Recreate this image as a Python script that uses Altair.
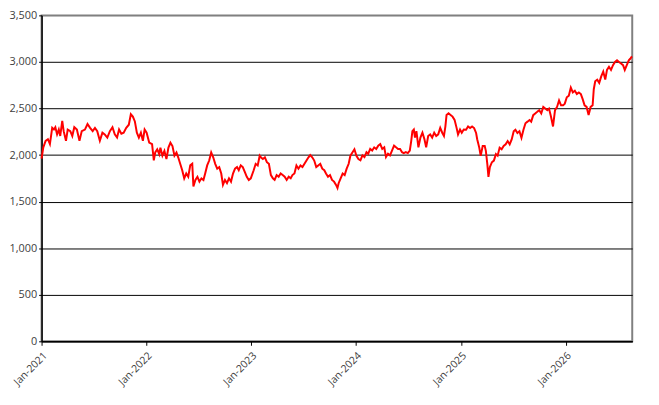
import altair as alt
import pandas as pd

# Days since 2021-01-01 of each observation
days = [0, 6, 14, 22, 29, 37, 43, 48, 54, 60, 65, 72, 77, 85, 91, 100, 107, 114, 123, 132,
        140, 151, 160, 169, 178, 186, 194, 203, 212, 220, 229, 238, 247, 255, 263, 270, 278, 286, 295, 304,
        311, 318, 325, 332, 339, 346, 353, 359, 366, 375, 385, 391,
        396, 403, 410, 414, 421, 428, 435, 442, 449, 456, 463, 470, 476, 483, 490, 497, 504, 511, 518, 525,
        529, 536, 543, 550, 557, 564, 570, 577, 584, 591, 598, 605, 612, 619, 626, 632, 639, 646, 653, 660,
        667, 674, 681, 687, 694, 701, 708, 715, 722, 729,
        739, 746, 753, 760, 764, 771, 778, 785, 792, 799, 806, 812, 819, 826, 833, 840, 847, 854, 861, 868,
        874, 881, 888, 895, 902, 909, 916, 923, 930, 936, 943, 950, 957, 964, 971, 978, 985, 991, 998, 1005,
        1012, 1019, 1026, 1031, 1035, 1042, 1049, 1056, 1063, 1070, 1076, 1083, 1090, 1097, 1104,
        1111, 1118, 1125, 1132, 1138, 1145, 1152, 1159, 1166, 1173, 1180, 1187, 1194, 1200, 1207, 1214, 1221, 1228, 1235, 1242,
        1249, 1256, 1262, 1269, 1276, 1283, 1288, 1292, 1297, 1301, 1306, 1313, 1320, 1327, 1334, 1340, 1347, 1354, 1361, 1368,
        1375, 1382, 1389, 1396, 1402, 1407, 1411, 1418, 1425, 1432, 1439, 1446, 1451, 1458, 1464, 1471,
        1479, 1486, 1493, 1500, 1507, 1514, 1518, 1525, 1530, 1537, 1544, 1548, 1553, 1557, 1562, 1569, 1576, 1583, 1589, 1596,
        1603, 1610, 1617, 1624, 1631, 1638, 1645, 1651, 1658, 1665, 1672, 1679, 1686, 1693, 1700, 1706, 1713, 1720, 1727, 1734,
        1741, 1748, 1755, 1762, 1768, 1775, 1782, 1789, 1796, 1803, 1810,
        1817, 1823, 1830, 1837, 1844, 1851, 1858, 1865, 1872, 1879, 1885, 1892, 1899, 1906, 1913, 1920, 1924, 1929, 1936, 1943,
        1950, 1957, 1964, 1970, 1977, 1984, 1991, 1998, 2005, 2012, 2019, 2026, 2032, 2039, 2046, 2051, 2057]

values = [1962, 2083, 2153, 2170, 2118, 2292, 2274, 2299, 2222, 2274, 2205, 2368, 2257, 2153, 2274, 2257, 2205, 2299, 2274, 2153,
          2257, 2274, 2333, 2292, 2257, 2292, 2257, 2153, 2240, 2222, 2188, 2257, 2299, 2222, 2188, 2274, 2229, 2240, 2292, 2326,
          2438, 2413, 2361, 2240, 2188, 2240, 2153, 2274, 2240, 2135, 2118, 1944,
          2028, 2062, 2010, 2080, 1993, 2045, 1958, 2080, 2132, 2097, 1993, 2028, 1976, 1906, 1837, 1750, 1802, 1767, 1889, 1906,
          1663, 1733, 1767, 1715, 1750, 1733, 1802, 1889, 1941, 2028, 1976, 1906, 1854, 1871, 1802, 1680, 1733, 1698, 1750, 1715,
          1802, 1854, 1871, 1837, 1889, 1871, 1819, 1767, 1733, 1750,
          1837, 1906, 1889, 1993, 1976, 1958, 1976, 1924, 1906, 1785, 1750, 1733, 1785, 1767, 1802, 1785, 1767, 1733, 1767, 1750,
          1785, 1802, 1889, 1854, 1889, 1871, 1906, 1941, 1976, 2000, 1976, 1941, 1871, 1889, 1906, 1854, 1837, 1802, 1767, 1785,
          1733, 1715, 1680, 1646, 1698, 1750, 1802, 1785, 1854, 1906, 1993, 2028, 2062, 1993, 1958,
          1944, 1997, 1979, 2031, 2014, 2066, 2049, 2083, 2066, 2101, 2118, 2066, 2083, 1979, 2014, 1997, 2049, 2101, 2083, 2066,
          2066, 2031, 2021, 2031, 2021, 2049, 2153, 2257, 2274, 2188, 2257, 2083, 2188, 2240, 2170, 2083, 2205, 2222, 2188, 2240,
          2205, 2222, 2292, 2240, 2205, 2309, 2431, 2448, 2431, 2413, 2378, 2292, 2222, 2274, 2240, 2274,
          2272, 2307, 2290, 2307, 2290, 2237, 2168, 2080, 1993, 2098, 2098, 2045, 1906, 1766, 1871, 1923, 1941, 2010, 1993, 2080,
          2063, 2098, 2115, 2150, 2115, 2168, 2255, 2272, 2237, 2255, 2185, 2272, 2342, 2359, 2377, 2359, 2429, 2447, 2464, 2482,
          2447, 2517, 2499, 2482, 2499, 2412, 2307, 2482, 2517, 2587, 2534,
          2534, 2552, 2621, 2638, 2724, 2672, 2690, 2655, 2672, 2655, 2603, 2534, 2517, 2431, 2517, 2534, 2707, 2793, 2810, 2776,
          2845, 2897, 2810, 2914, 2948, 2914, 2966, 3000, 3017, 3000, 2983, 2966, 2914, 2966, 3017, 3034, 3059]

tick_years = [2021, 2022, 2023, 2024, 2025, 2026]
y_ticks = [0, 500, 1000, 1500, 2000, 2500, 3000, 3500]

start = pd.Timestamp("2021-01-01")
df = pd.DataFrame({"date": start + pd.to_timedelta(days, unit="D"), "value": values})

chart = alt.Chart(df).mark_line(color="#FF0000", strokeWidth=2).encode(
    x=alt.X(
        "date:T",
        scale=alt.Scale(domain=[alt.DateTime(year=2021, month=1, date=1),
                                alt.DateTime(year=2026, month=8, date=21)]),
        axis=alt.Axis(
            values=[alt.DateTime(year=y, month=1, date=1) for y in tick_years],
            format="%b-%Y", labelAngle=-45, labelAlign="right", labelBaseline="top",
            grid=False, title=None, tickSize=4, labelPadding=5, labelFontSize=10.5,
        ),
    ),
    y=alt.Y(
        "value:Q",
        scale=alt.Scale(domain=[0, 3500], nice=False),
        axis=alt.Axis(
            values=y_ticks, format=",.0f", grid=True, title=None, tickSize=3, labelPadding=2,
            gridColor={"condition": {"test": "datum.value === 3500", "value": "#808080"}, "value": "#000000"},
        ),
    ),
).properties(
    width=598, height=330, autosize="none",
    padding={"left": 34, "top": 5, "right": 19, "bottom": 62},
).configure_view(
    stroke="#808080", strokeWidth=2
).configure_axis(
    labelFont="Open Sans", labelFontSize=11, labelColor="#404040",
    domainColor="#000000", domainWidth=1.5, tickColor="#000000",
    gridWidth=1,
)

chart.save("out.html", embed_options={"renderer": "svg", "actions": False})
